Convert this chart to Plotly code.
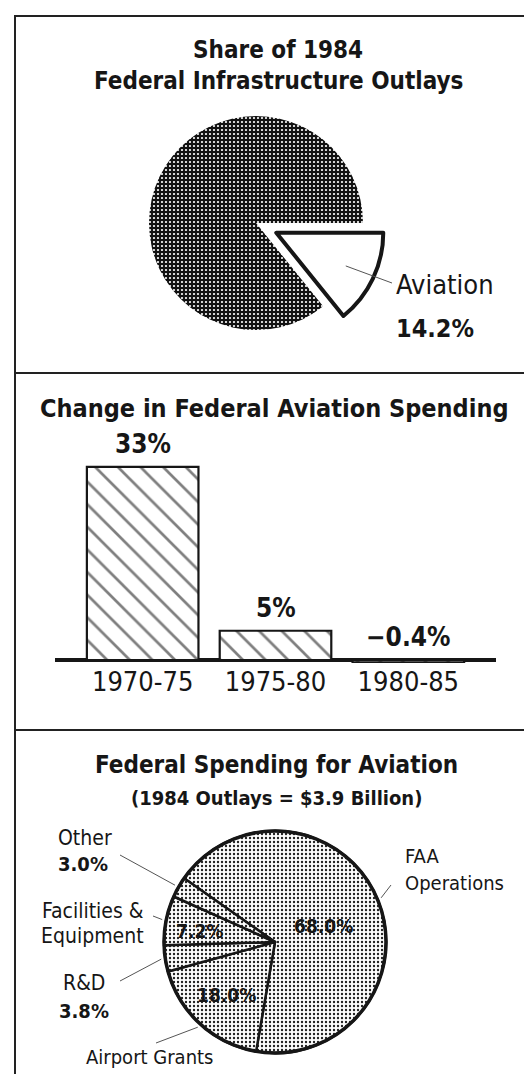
import math
import plotly.graph_objects as go

W, H = 532, 1074
NARROW = "DejaVu Sans Condensed, Roboto, sans-serif"
INK = "#161616"

# ---------------- data ----------------
share_labels = ["Aviation", "Other infrastructure"]
share_values = [14.2, 85.8]

change_periods = ["1970-75", "1975-80", "1980-85"]
change_values = [33, 5, -0.4]

aviation_labels = ["FAA Operations", "Airport Grants", "R&D", "Facilities & Equipment", "Other"]
aviation_values = [68.0, 18.0, 3.8, 7.2, 3.0]


def px_x(x):
    return x / W


def px_y(y):
    return 1 - y / H


def slice_mid_angles(values, rotation):
    """math angles (deg, CCW from +x) of slice bisectors for a clockwise pie"""
    total = sum(values)
    start = 90 - rotation
    out = []
    cum = 0
    for v in values:
        a0 = start - 360 * cum / total
        a1 = a0 - 360 * v / total
        out.append((a0 + a1) / 2)
        cum += v
    return out


def pct1(v):
    return f"{v:.1f}%"


def pct_bar(v):
    s = f"{abs(v):g}%"
    return ("\u2212" + s) if v < 0 else s


fig = go.Figure()
annotations = []
shapes = []

# ---------------- panel 1: share pie ----------------
p1_cx, p1_cy, p1_r, p1_pull = 248, 215, 107, 0.21
half = p1_r * (1 + p1_pull)
p1_rot = 90
fig.add_trace(go.Pie(
    labels=share_labels, values=share_values, sort=False, direction="clockwise",
    rotation=p1_rot, pull=[p1_pull, 0], textinfo="none", hoverinfo="none",
    showlegend=False,
    domain=dict(x=[px_x(p1_cx - half), px_x(p1_cx + half)],
                y=[px_y(p1_cy + half), px_y(p1_cy - half)]),
    marker=dict(colors=["white", "#1a1a1a"],
                line=dict(color=[INK, INK], width=[4, 0]),
                pattern=dict(shape=["", "."], fgcolor=["white", "white"],
                             bgcolor=["white", "#111111"], size=4, solidity=0.24)),
))

mid = slice_mid_angles(share_values, p1_rot)[0]
ocx = p1_cx + p1_pull * p1_r * math.cos(math.radians(mid))
ocy = p1_cy - p1_pull * p1_r * math.sin(math.radians(mid))
sx = ocx + 0.72 * p1_r * math.cos(math.radians(mid))
sy = ocy - 0.72 * p1_r * math.sin(math.radians(mid))
shapes.append(dict(type="line", xref="paper", yref="paper",
                   x0=px_x(sx), y0=px_y(sy), x1=px_x(384), y1=px_y(275),
                   line=dict(color="#555", width=1)))


def text(x, y, s, size, bold=False, xanchor="center"):
    annotations.append(dict(
        x=px_x(x), y=px_y(y), xref="paper", yref="paper", text=s, showarrow=False,
        xanchor=xanchor, yanchor="middle",
        font=dict(family=NARROW, size=size, color=INK, weight=700 if bold else 400)))


text(270, 42, "Share of 1984", 24, True)
text(270, 73, "Federal Infrastructure Outlays", 24, True)
text(386, 277, share_labels[0], 27, False, "left")
text(386, 320, pct1(share_values[0]), 25, True, "left")

# ---------------- panel 2: bars ----------------
base_px, unit_px = 652, 5.85
y_lo, y_hi = -0.5, 36
fig.add_trace(go.Bar(
    x=change_periods, y=change_values, width=0.84, xaxis="x", yaxis="y",
    hoverinfo="none", showlegend=False,
    marker=dict(color="white", line=dict(color=INK, width=2.2),
                pattern=dict(shape="\\", fgcolor="black", bgcolor="white", size=16, solidity=0.17)),
))
for cat, v in zip(change_periods, change_values):
    annotations.append(dict(
        x=cat, y=max(v, 0), xref="x", yref="y", text=pct_bar(v), showarrow=False,
        yanchor="bottom", yshift=6,
        font=dict(family=NARROW, size=26, color=INK, weight=700)))

text(266, 400, "Change in Federal Aviation Spending", 25, True)

# ---------------- panel 3: aviation pie ----------------
p3_cx, p3_cy, p3_r = 267, 934, 111
p3_rot = -55
fig.add_trace(go.Pie(
    labels=aviation_labels, values=aviation_values, sort=False, direction="clockwise",
    rotation=p3_rot, textinfo="none", hoverinfo="none", showlegend=False,
    domain=dict(x=[px_x(p3_cx - p3_r), px_x(p3_cx + p3_r)],
                y=[px_y(p3_cy + p3_r), px_y(p3_cy - p3_r)]),
    marker=dict(colors=["white"] * 5, line=dict(color=INK, width=2.5),
                pattern=dict(shape=".", fgcolor="#222", bgcolor="white", size=4, solidity=0.27)),
))
shapes.append(dict(type="circle", xref="paper", yref="paper",
                   x0=px_x(p3_cx - p3_r), x1=px_x(p3_cx + p3_r),
                   y0=px_y(p3_cy + p3_r), y1=px_y(p3_cy - p3_r),
                   line=dict(color=INK, width=3.5)))

mids = slice_mid_angles(aviation_values, p3_rot)
leader_ends = [(383, 877), (148, 1035), (112, 973), (145, 908), (112, 847)]
for m, (ex, ey) in zip(mids, leader_ends):
    R = p3_r + 4
    sx = p3_cx + R * math.cos(math.radians(m))
    sy = p3_cy - R * math.sin(math.radians(m))
    shapes.append(dict(type="line", xref="paper", yref="paper",
                       x0=px_x(sx), y0=px_y(sy), x1=px_x(ex), y1=px_y(ey),
                       line=dict(color="#555", width=1)))

text(268, 757, "Federal Spending for Aviation", 24, True)
text(268, 790, "(1984 Outlays = $3.9 Billion)", 20, True)

text(395, 848, "FAA", 20, False, "left")
text(395, 875, "Operations", 20, False, "left")
text(48, 830, aviation_labels[4], 21, False, "left")
text(48, 856, pct1(aviation_values[4]), 20, True, "left")
text(138, 903, "Facilities &", 21, False, "right")
text(138, 928, "Equipment", 21, False, "right")
text(76, 975, aviation_labels[2], 21, False)
text(76, 1003, pct1(aviation_values[2]), 20, True)
text(76, 1049, aviation_labels[1], 20, False, "left")
text(315, 918, pct1(aviation_values[0]), 19, True)
text(191, 923, pct1(aviation_values[3]), 19, True)
text(218, 987, pct1(aviation_values[1]), 19, True)

# ---------------- frame ----------------
frame = dict(color="#222", width=2)
shapes += [
    dict(type="line", xref="paper", yref="paper", x0=px_x(7), x1=px_x(7), y0=px_y(8), y1=0, line=frame),
    dict(type="line", xref="paper", yref="paper", x0=px_x(6), x1=1, y0=px_y(8), y1=px_y(8), line=frame),
    dict(type="line", xref="paper", yref="paper", x0=px_x(6), x1=1, y0=px_y(365), y1=px_y(365), line=frame),
    dict(type="line", xref="paper", yref="paper", x0=px_x(6), x1=1, y0=px_y(722), y1=px_y(722), line=frame),
]

fig.update_layout(
    width=W, height=H, margin=dict(l=0, r=0, t=0, b=0),
    paper_bgcolor="white", plot_bgcolor="white",
    annotations=annotations, shapes=shapes,
    xaxis=dict(domain=[px_x(47), px_x(488)], range=[-0.66, 2.66], type="category",
               showgrid=False, showline=False, ticks="", fixedrange=True,
               tickfont=dict(family=NARROW, size=27, color=INK)),
    yaxis=dict(domain=[px_y(base_px - y_lo * unit_px), px_y(base_px - y_hi * unit_px)],
               range=[y_lo, y_hi], showgrid=False, showline=False, showticklabels=False,
               ticks="", zeroline=True, zerolinecolor=INK, zerolinewidth=4, fixedrange=True),
)

fig.write_html("out.html")
